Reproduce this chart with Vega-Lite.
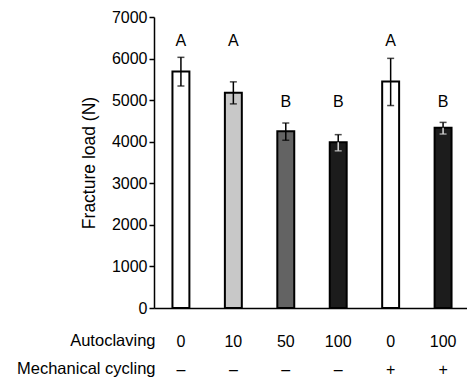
{
  "$schema": "https://vega.github.io/schema/vega-lite/v6.json",
  "width": 313,
  "height": 291,
  "autosize": "none",
  "padding": {"left": 154, "top": 17, "right": 0, "bottom": 71},
  "background": "white",
  "config": {
    "view": {"stroke": null},
    "font": "Liberation Sans",
    "axis": {"labelFont": "Liberation Sans", "titleFont": "Liberation Sans", "labelColor": "black", "titleColor": "black", "grid": false, "domainColor": "black", "tickColor": "black"}
  },
  "data": {
    "values": [
      {"group": "0|–", "shade": "white", "mean": 5690, "lo": 5340, "hi": 6030, "letter": "A", "letter_y": 6420},
      {"group": "10|–", "shade": "light", "mean": 5180, "lo": 4910, "hi": 5440, "letter": "A", "letter_y": 6420},
      {"group": "50|–", "shade": "mid", "mean": 4250, "lo": 4035, "hi": 4450, "letter": "B", "letter_y": 4950},
      {"group": "100|–", "shade": "dark", "mean": 3985, "lo": 3780, "hi": 4170, "letter": "B", "letter_y": 4950},
      {"group": "0|+", "shade": "white", "mean": 5450, "lo": 4870, "hi": 6005, "letter": "A", "letter_y": 6420},
      {"group": "100|+", "shade": "dark", "mean": 4335, "lo": 4185, "hi": 4465, "letter": "B", "letter_y": 4950}
    ]
  },
  "encoding": {
    "x": {
      "field": "group",
      "type": "nominal",
      "sort": null,
      "scale": {"range": [0, 316], "paddingInner": 0.677, "paddingOuter": 0.352},
      "axis": {
        "labelExpr": "split(datum.label, '|')",
        "labelAngle": 0,
        "labelFontSize": 16,
        "labelLineHeight": 28,
        "labelPadding": 25,
        "ticks": false,
        "domainWidth": 1.5,
        "title": ["Autoclaving", "Mechanical cycling"],
        "titleFontSize": 16.5,
        "titleFontWeight": "normal",
        "titleLineHeight": 28,
        "titleAlign": "right",
        "titleBaseline": "top",
        "titleAnchor": "start",
        "titleX": 1,
        "titleY": 24
      }
    }
  },
  "layer": [
    {
      "mark": {"type": "bar", "stroke": "black", "strokeWidth": 2},
      "encoding": {
        "y": {
          "field": "mean",
          "type": "quantitative",
          "scale": {"domain": [0, 7000], "nice": false},
          "axis": {
            "values": [0, 1000, 2000, 3000, 4000, 5000, 6000, 7000],
            "format": "d",
            "labelFontSize": 16,
            "labelPadding": 2,
            "tickSize": 5,
            "domainWidth": 1.5,
            "tickWidth": 1.5,
            "title": "Fracture load (N)",
            "titleFontSize": 17.5,
            "titleFontWeight": "normal",
            "titlePadding": 13
          }
        },
        "fill": {
          "field": "shade",
          "type": "nominal",
          "scale": {"domain": ["white", "light", "mid", "dark"], "range": ["#ffffff", "#c8c8c8", "#636363", "#1c1c1c"]},
          "legend": null
        }
      }
    },
    {
      "mark": {"type": "rule", "strokeWidth": 1.5, "color": "black"},
      "encoding": {
        "y": {"field": "mean", "type": "quantitative"},
        "y2": {"field": "hi"}
      }
    },
    {
      "mark": {"type": "rule", "strokeWidth": 1.5},
      "encoding": {
        "y": {"field": "lo", "type": "quantitative"},
        "y2": {"field": "mean"},
        "color": {"condition": {"test": "datum.shade === 'dark'", "value": "#d8d8d8"}, "value": "black"}
      }
    },
    {
      "mark": {"type": "tick", "size": 7, "thickness": 1.5, "color": "black"},
      "encoding": {
        "y": {"field": "hi", "type": "quantitative"}
      }
    },
    {
      "mark": {"type": "tick", "size": 7, "thickness": 1.5},
      "encoding": {
        "y": {"field": "lo", "type": "quantitative"},
        "color": {"condition": {"test": "datum.shade === 'dark'", "value": "#d8d8d8"}, "value": "black"}
      }
    },
    {
      "mark": {"type": "text", "fontSize": 16, "color": "black", "baseline": "middle", "font": "Liberation Sans"},
      "encoding": {
        "y": {"field": "letter_y", "type": "quantitative"},
        "text": {"field": "letter"}
      }
    }
  ]
}
